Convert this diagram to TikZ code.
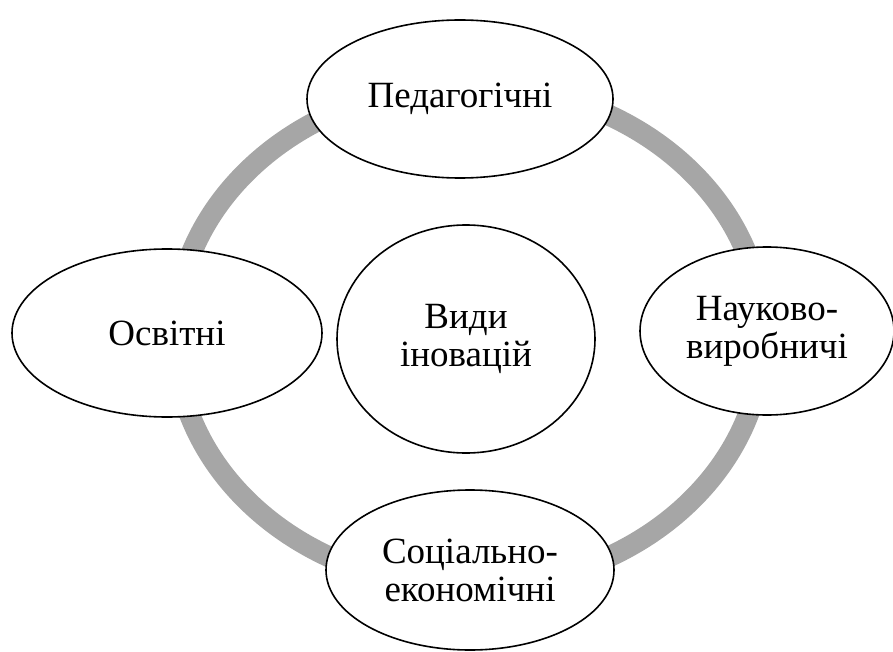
\documentclass[tikz,border=0pt]{standalone}
\usepackage{fontspec}
\setmainfont{Liberation Serif}
\newfontfamily\kindfont{Liberation Serif}
\usetikzlibrary{shapes.geometric, positioning}
\definecolor{ringgray}{RGB}{166,166,166}
\tikzstyle{kind} = [ellipse, draw=black, line width=1.6pt, fill=white, align=center, inner sep=0pt, font=\kindfont\fontsize{37}{38}\selectfont]
\tikzstyle{ring} = [draw=ringgray, line width=21pt]

\begin{document}
\begin{tikzpicture}[x=1pt, y=-1pt]
    \useasboundingbox (0,0) rectangle (893,652);
    \coordinate (hub) at (469,336);
    \draw [ring] (hub) ellipse [x radius=294pt, y radius=251pt];

    \node (ped) [kind, minimum width=306pt, minimum height=158pt] at (460,99) {Педагогічні};
    \node (osv) [kind, minimum width=310pt, minimum height=168pt] at (167,333) {Освітні};
    \node (nauk) [kind, minimum width=254pt, minimum height=168pt] at (767,331) {Науково-\\виробничі};
    \node (soc) [kind, minimum width=288pt, minimum height=160pt] at (470,570) {Соціально-\\економічні};
    \node (vydy) [kind, minimum width=258pt, minimum height=228pt] at (466,339) {Види\\іновацій};
\end{tikzpicture}
\end{document}
